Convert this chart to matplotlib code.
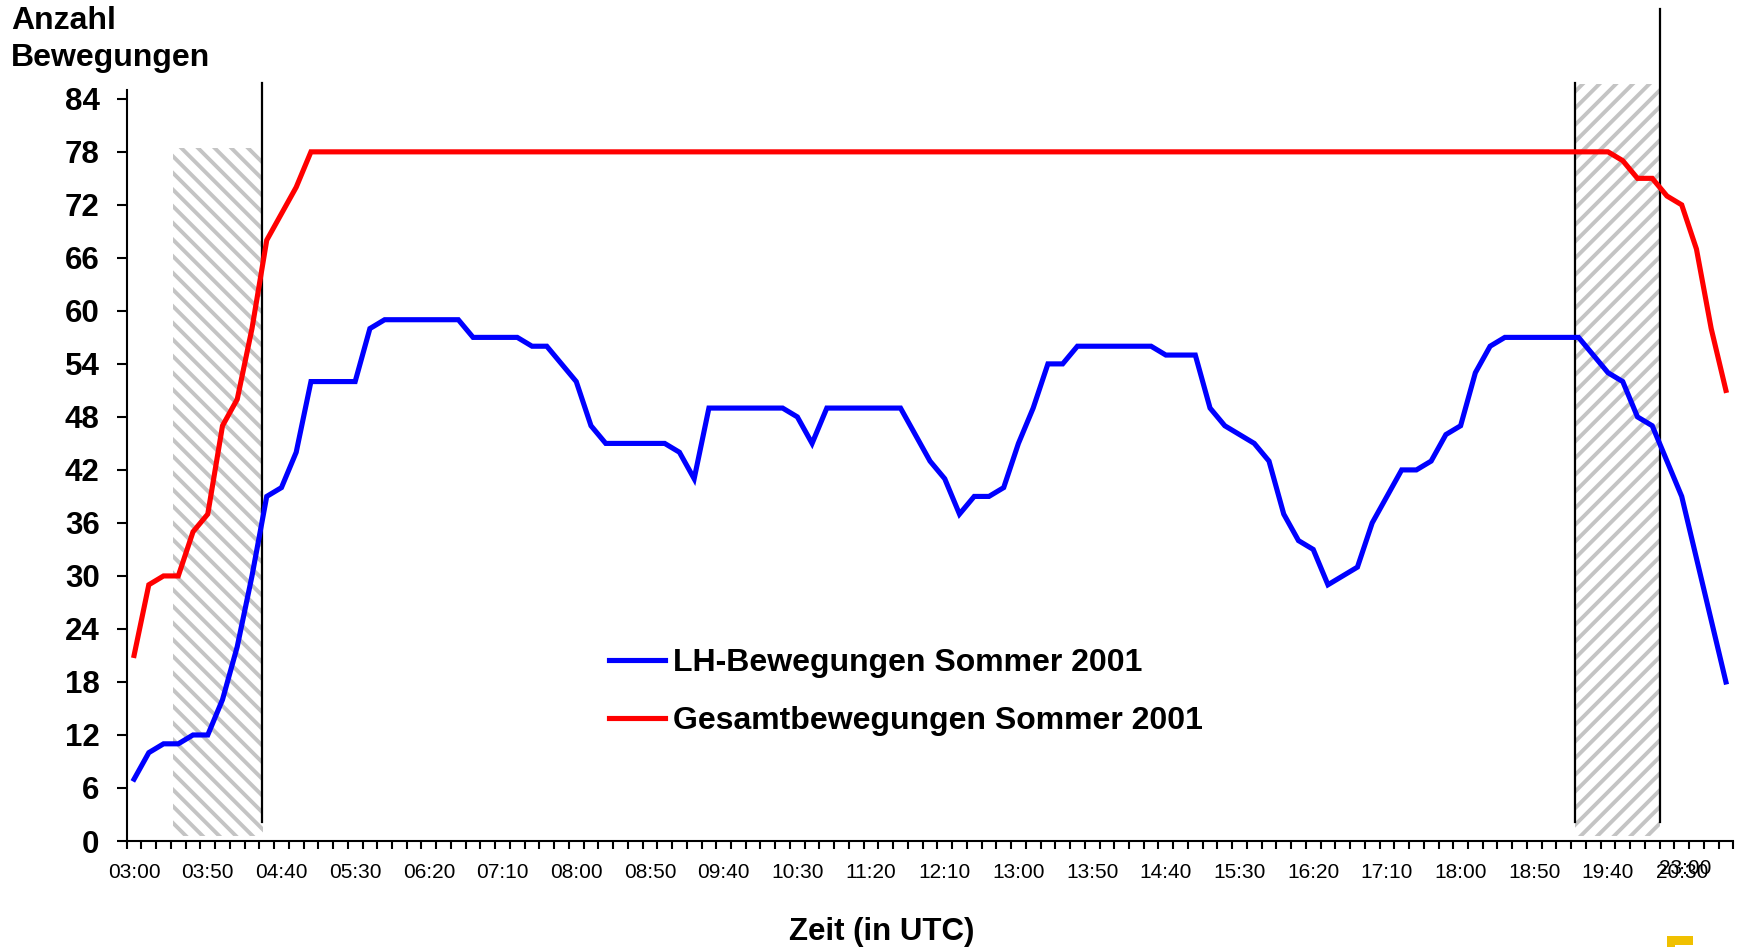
import matplotlib.pyplot as plt
from matplotlib.patches import Rectangle

plt.rcParams['font.family'] = ['Liberation Sans', 'DejaVu Sans']
plt.rcParams['hatch.linewidth'] = 2.8

# Zeitachse: 03:00 bis 21:00 UTC in 10-Minuten-Schritten
zeiten = [f"{m // 60:02d}:{m % 60:02d}" for m in range(180, 1261, 10)]

lh_bewegungen = [7, 10, 11, 11, 12, 12, 16, 22, 30, 39, 40, 44, 52, 52, 52, 52, 58,
                 59, 59, 59, 59, 59, 59, 57, 57, 57, 57, 56, 56, 54, 52, 47,
                 45, 45, 45, 45, 45, 44, 41, 49, 49, 49, 49, 49, 49, 48, 45,
                 49, 49, 49, 49, 49, 49, 46, 43, 41, 37, 39, 39, 40, 45, 49, 54, 54,
                 56, 56, 56, 56, 56, 56, 55, 55, 55, 49, 47, 46, 45, 43, 37, 34, 33,
                 29, 30, 31, 36, 39, 42, 42, 43, 46, 47, 53, 56,
                 57, 57, 57, 57, 57, 57, 55, 53, 52, 48, 47, 43, 39, 32, 25, 18]

gesamt_bewegungen = [21, 29, 30, 30, 35, 37, 47, 50, 58, 68, 71, 74] + [78] * 89 + \
                    [77, 75, 75, 73, 72, 67, 58, 51]

# Sperrzeiten (Position auf der Kategorienachse) mit Schraffur
sperr_start = [2.66, 97.75]
sperr_ende = [8.77, 103.5]
sperr_hoehe = [78.4, 85.7]
sperr_muster = ['\\\\', '//']

# senkrechte Markierungslinien
linien_x = [8.66, 97.75, 103.52]
linien_oben = [85.8, 85.8, 94.2]

W, H = 1743, 947
fig = plt.figure(figsize=(W / 100, H / 100), dpi=100)
ax = fig.add_axes([126.7 / W, 106 / H, (1733.3 - 126.7) / W, (841 - 90) / H])

x = list(range(len(zeiten)))

for s, e, h, m in zip(sperr_start, sperr_ende, sperr_hoehe, sperr_muster):
    ax.add_patch(Rectangle((s, 0.6), e - s, h - 0.6, facecolor='white',
                           edgecolor='#C4C4C4', hatch=m, linewidth=0,
                           clip_on=False, zorder=1))

for lx, lo in zip(linien_x, linien_oben):
    ax.plot([lx, lx], [2.2, lo], color='black', linewidth=1.6, clip_on=False, zorder=2)

ax.plot(x, lh_bewegungen, color='#0000FF', linewidth=3.7, solid_joinstyle='miter',
        label='LH-Bewegungen Sommer 2001', zorder=3, clip_on=False)
ax.plot(x, gesamt_bewegungen, color='#FF0000', linewidth=3.7, solid_joinstyle='miter',
        label='Gesamtbewegungen Sommer 2001', zorder=3, clip_on=False)

ax.set_xlim(-0.5, len(zeiten) - 0.5)
ax.set_ylim(0, 85)

# Achsen
for side in ['top', 'right']:
    ax.spines[side].set_visible(False)
for side in ['left', 'bottom']:
    ax.spines[side].set_linewidth(1.5)

ax.set_yticks(range(0, 85, 6))
ax.tick_params(axis='y', direction='out', length=7.5, width=1.5, pad=12,
               labelsize=22.5)
for lbl in ax.get_yticklabels():
    lbl.set_fontweight('bold')

ax.set_xticks(x[::5])
ax.set_xticklabels(zeiten[::5])
ax.set_xticks([i - 0.5 for i in range(len(zeiten) + 1)], minor=True)
ax.tick_params(axis='x', which='major', length=0, pad=16, labelsize=15)
ax.tick_params(axis='x', which='minor', direction='out', length=5.5, width=1.5)

# überlagerte Beschriftung am Achsenende
ax.text(105.25, -0.036, '23:00', transform=ax.get_xaxis_transform(),
        ha='center', va='center', fontsize=15)

fig.text(11 / W, 1 - 6 / H, 'Anzahl\nBewegungen', ha='left', va='top',
         fontsize=23, fontweight='bold', linespacing=1.3)
fig.text(881.5 / W, 15 / H, 'Zeit (in UTC)', ha='center', va='center',
         fontsize=22.5, fontweight='bold')

ax.legend(loc='center left', bbox_to_anchor=(0.3002, 0.1985), frameon=False,
          prop={'weight': 'bold', 'size': 23}, handlelength=1.75,
          handletextpad=0.25, labelspacing=0.88, borderpad=0, borderaxespad=0)

# Logo-Fragment unten rechts
gelb = '#F0C000'
fig.patches.append(Rectangle((1667 / W, 2 / H), 26 / W, 9 / H, facecolor=gelb,
                             transform=fig.transFigure, figure=fig))
fig.patches.append(Rectangle((1667 / W, 0), 8 / W, 11 / H, facecolor=gelb,
                             transform=fig.transFigure, figure=fig))

fig.savefig('out.png', dpi=100, facecolor='white')
